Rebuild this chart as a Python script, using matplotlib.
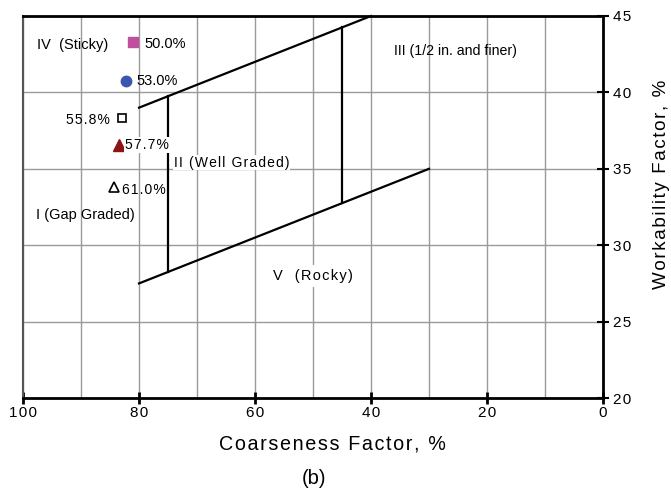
import matplotlib
matplotlib.use("Agg")
import matplotlib.pyplot as plt

plt.rcParams['font.family'] = ['Liberation Sans', 'DejaVu Sans']

# zone boundaries (coarseness, workability)
upper_x = [80, 40]
upper_y = [39, 45]
lower_x = [80, 30]
lower_y = [27.5, 35]
div1_x = [75, 75]
div1_y = [28.25, 39.75]
div2_x = [45, 45]
div2_y = [32.75, 44.25]

# mixes
pt_labels = ['50.0%', '53.0%', '55.8%', '57.7%', '61.0%']
pt_x = [81.0, 82.2, 82.9, 83.4, 84.3]
pt_y = [43.3, 40.75, 38.3, 36.55, 33.8]


def spaced(s, sep='\u200a'):
    return sep.join(s)


fig = plt.figure(figsize=(6.71, 4.92), dpi=100)
ax = fig.add_axes([0.0343, 0.191, 0.8644, 0.7765])

ax.set_xlim(100, 0)
ax.set_ylim(20, 45)
ax.set_xticks(range(0, 101, 10), minor=True)
ax.set_xticks(range(0, 101, 20))
ax.set_xticklabels([spaced(str(v)) for v in range(0, 101, 20)], fontsize=11)
ax.set_yticks(range(20, 46, 5))
ax.set_yticklabels([spaced(str(v)) for v in range(20, 46, 5)], fontsize=11)
ax.grid(True, which='both', color='#9a9a9a', lw=1)
ax.set_axisbelow(True)

ax.yaxis.tick_right()
ax.yaxis.set_label_position('right')
ax.tick_params(axis='x', which='major', direction='inout', length=8, width=2, pad=2)
ax.tick_params(axis='x', which='minor', length=0)
ax.tick_params(axis='y', direction='inout', length=8, width=1.5, pad=3)

for s in ['top', 'bottom', 'right']:
    ax.spines[s].set_linewidth(2)
    ax.spines[s].set_color('black')
ax.spines['left'].set_linewidth(1.5)
ax.spines['left'].set_color('#555555')

ax.set_xlabel(spaced('Coarseness Factor, %'), fontsize=14.2)
ax.xaxis.set_label_coords(0.533, -0.096)
ax.set_ylabel(spaced('Workability Factor, %'), fontsize=13.5)
ax.yaxis.set_label_coords(1.087, 0.56)

for xs, ys in [(upper_x, upper_y), (lower_x, lower_y), (div1_x, div1_y), (div2_x, div2_y)]:
    ax.plot(xs, ys, color='black', lw=1.6, clip_on=False)

ax.plot(pt_x[0], pt_y[0], 's', color='#c0509e', ms=7.5)
ax.plot(pt_x[1], pt_y[1], 'o', color='#3a56b0', ms=7.5)
ax.plot(pt_x[2], pt_y[2], 's', mfc='white', mec='black', mew=1.2, ms=6)
ax.plot(pt_x[3], pt_y[3], '^', color='#8b1414', ms=8.5)
ax.plot(pt_x[4], pt_y[4], '^', mfc='white', mec='black', mew=1.2, ms=7.5)

fs = 10.5
ax.text(79.0, pt_y[0] - 0.15, pt_labels[0], fontsize=fs, va='center', ha='left')
ax.text(80.5, pt_y[1], pt_labels[1], fontsize=fs, va='center', ha='left')
ax.text(85.0, pt_y[2] - 0.1, spaced(pt_labels[2]), fontsize=10, va='center', ha='right')
ax.text(82.4, pt_y[3], spaced(pt_labels[3]), fontsize=10, va='center', ha='left',
        bbox=dict(facecolor='white', edgecolor='none', pad=0.5))
ax.text(82.9, pt_y[4] - 0.2, spaced(pt_labels[4]), fontsize=10, va='center', ha='left')

ax.text(97.6, 43.1, 'IV  (Sticky)', fontsize=10.5, va='center', ha='left')
ax.text(36.0, 42.7, 'III (1/2 in. and finer)', fontsize=10.2, va='center', ha='left')
ax.text(74.0, 35.4, spaced('II (Well Graded)'), fontsize=10, va='center', ha='left',
        bbox=dict(facecolor='white', edgecolor='none', pad=0.5))
ax.text(97.8, 32.0, 'I (Gap Graded)', fontsize=10.5, va='center', ha='left')
ax.text(56.9, 28.0, spaced('V  (Rocky)'), fontsize=10.5, va='center', ha='left',
        bbox=dict(facecolor='white', edgecolor='none', pad=3))

fig.text(0.468, 0.028, '(b)', fontsize=14.5, ha='center', va='center')

fig.savefig('out.png', dpi=100)
